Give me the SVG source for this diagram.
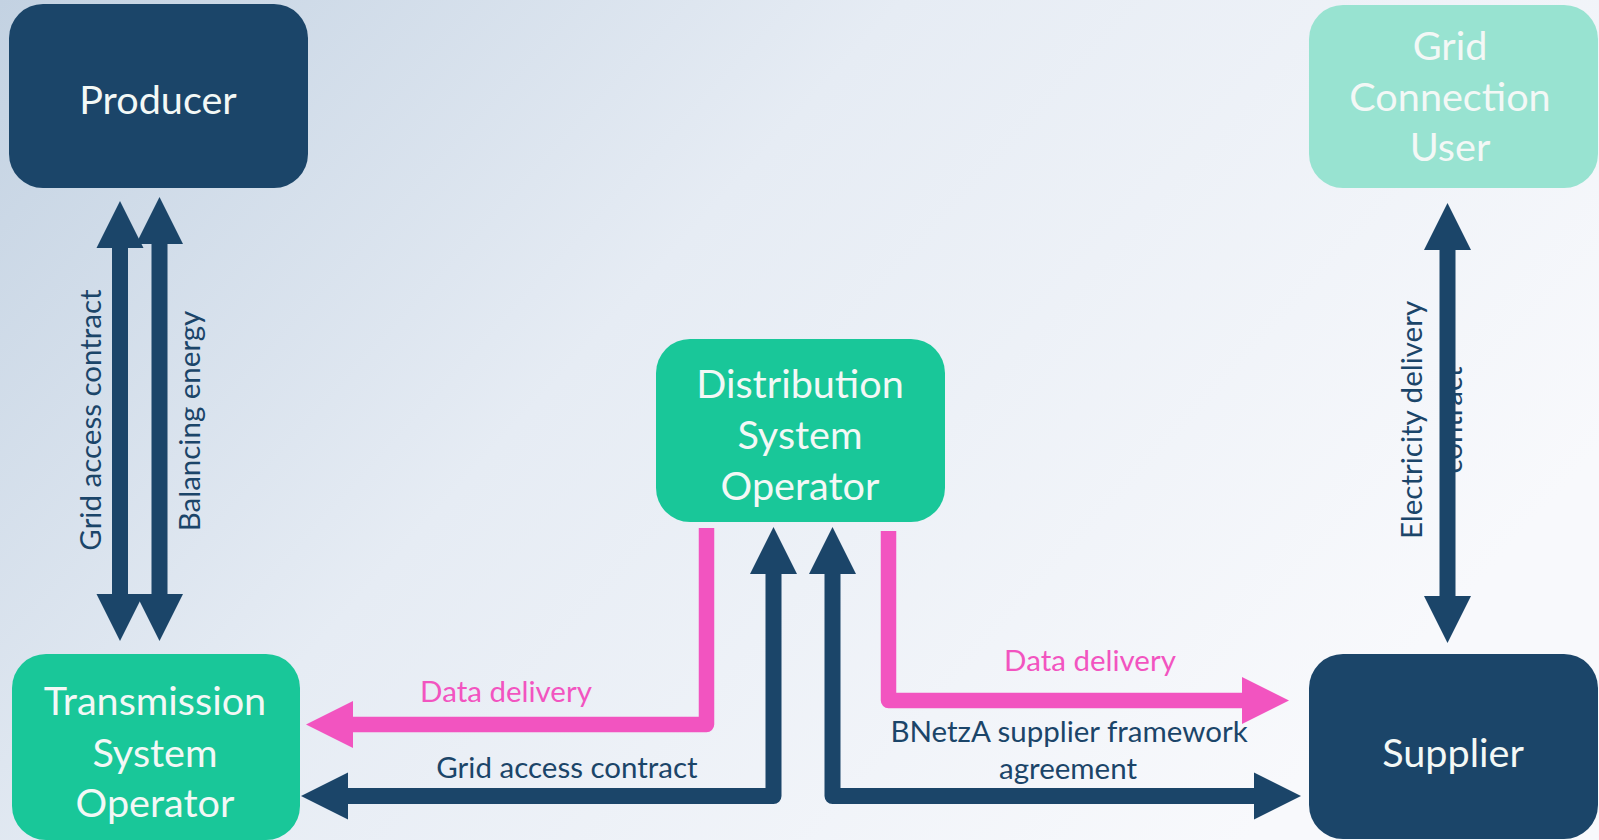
<svg xmlns="http://www.w3.org/2000/svg" width="1599" height="840" viewBox="0 0 1599 840">
<defs>
<linearGradient id="bg" gradientUnits="userSpaceOnUse" x1="0" y1="0" x2="1100" y2="1000">
<stop offset="0" stop-color="#c3d2e2"/>
<stop offset="0.45" stop-color="#e6ecf4"/>
<stop offset="1" stop-color="#f8f9fc"/>
</linearGradient>
<marker id="hb" markerUnits="userSpaceOnUse" markerWidth="48" markerHeight="48" refX="4" refY="23.5" orient="auto-start-reverse" overflow="visible">
<path d="M0,0 L47,23.5 L0,47 Z" fill="#1b4569"/>
</marker>
<marker id="hp" markerUnits="userSpaceOnUse" markerWidth="48" markerHeight="48" refX="4" refY="23.5" orient="auto-start-reverse" overflow="visible">
<path d="M0,0 L47,23.5 L0,47 Z" fill="#f254c0"/>
</marker>
<style>
.nl{font-family:Lato,"Liberation Sans",sans-serif;font-size:39.6px;fill:#f3f8f6;text-anchor:middle}
.cl{font-family:Lato,"Liberation Sans",sans-serif;font-size:29.5px;text-anchor:middle}
.db{fill:#1b4569}
.pk{fill:#f254c0}
.cb{fill:none;stroke:#1b4569;stroke-width:16;stroke-linejoin:round}
.cp{fill:none;stroke:#f254c0;stroke-width:15.5;stroke-linejoin:round}
</style>
</defs>
<rect x="0" y="0" width="1599" height="840" fill="url(#bg)"/>

<text class="cl db" transform="translate(1462,420) rotate(-90)">contract</text>

<g id="connectors">
<path class="cb" d="M159.5,240 V598" marker-start="url(#hb)" marker-end="url(#hb)"/>
<path class="cb" d="M120,244 V598" marker-start="url(#hb)" marker-end="url(#hb)"/>
<path class="cb" d="M1447.5,246 V600" marker-start="url(#hb)" marker-end="url(#hb)"/>
<path class="cp" d="M706.5,528 V724.5 H349" marker-end="url(#hp)"/>
<path class="cp" d="M888.5,531 V700.5 H1246" marker-end="url(#hp)"/>
<path class="cb" d="M773.5,570 V796 H344" marker-start="url(#hb)" marker-end="url(#hb)"/>
<path class="cb" d="M832.5,570 V796 H1258" marker-start="url(#hb)" marker-end="url(#hb)"/>
<text class="cl db" transform="translate(101,420) rotate(-90)">Grid access contract</text>
<text class="cl db" transform="translate(200,421) rotate(-90)">Balancing energy</text>
<text class="cl db" transform="translate(1422,420) rotate(-90)">Electricity delivery</text>
<text class="cl pk" x="506" y="702">Data delivery</text>
<text class="cl db" x="567" y="778">Grid access contract</text>
<text class="cl pk" x="1090" y="671">Data delivery</text>
<text class="cl db" x="1069" y="742">BNetzA supplier framework</text>
<text class="cl db" x="1068" y="779">agreement</text>
</g>

<g id="producer">
<rect x="9" y="4" width="299" height="184" rx="34" fill="#1b4569"/>
<text class="nl" x="158" y="114">Producer</text>
</g>
<g id="gcu">
<rect x="1309" y="5" width="289" height="183" rx="34" fill="#98e3d1"/>
<text class="nl" x="1450" y="60">Grid</text>
<text class="nl" x="1450" y="111">Connection</text>
<text class="nl" x="1450" y="161">User</text>
</g>
<g id="dso">
<rect x="656" y="339" width="289" height="183" rx="34" fill="#19c799"/>
<text class="nl" x="800" y="398">Distribution</text>
<text class="nl" x="800" y="449">System</text>
<text class="nl" x="800" y="500">Operator</text>
</g>
<g id="tso">
<rect x="12" y="654" width="288" height="186" rx="34" fill="#19c799"/>
<text class="nl" x="155" y="715">Transmission</text>
<text class="nl" x="155" y="767">System</text>
<text class="nl" x="155" y="817">Operator</text>
</g>
<g id="supplier">
<rect x="1309" y="654" width="289" height="185" rx="34" fill="#1b4569"/>
<text class="nl" x="1453" y="767">Supplier</text>
</g>
</svg>
